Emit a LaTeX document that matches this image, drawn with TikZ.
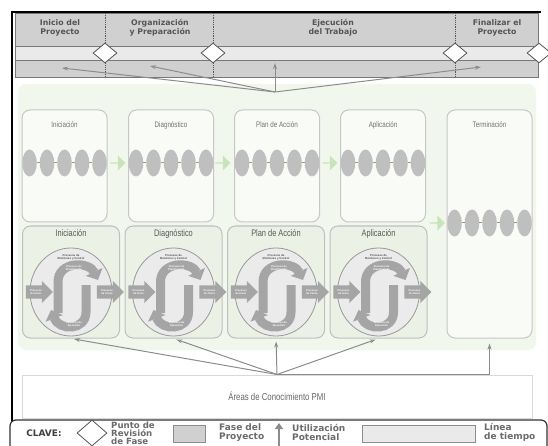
\documentclass[tikz,border=0pt]{standalone}
\usepackage{fontspec}
\setmainfont{Liberation Sans}
\setsansfont{DejaVu Sans}
\newfontfamily\estrecha[FakeStretch=0.78]{Liberation Sans}
\usetikzlibrary{arrows.meta,positioning,shapes.geometric,shapes.arrows}
\definecolor{borde}{RGB}{120,120,120}
\definecolor{fasegris}{RGB}{208,208,208}
\definecolor{lineatiempo}{RGB}{234,234,234}
\definecolor{verdefondo}{RGB}{242,247,237}
\definecolor{verdecaja}{RGB}{235,241,229}
\definecolor{verdeflecha}{RGB}{200,228,186}
\definecolor{textogris}{RGB}{85,85,85}
\definecolor{procgris}{RGB}{165,165,165}
\tikzset{
  marco/.style={draw=black, line width=1.6pt},
  cabecera/.style={draw=borde, thick, fill=fasegris},
  tiempo/.style={draw=borde, thick, fill=lineatiempo},
  separador/.style={draw=textogris, densely dotted, thick},
  fase/.style={font=\sffamily\bfseries\fontsize{7.8}{8.6}\selectfont, text=textogris, align=center, inner sep=1pt},
  revision/.style={diamond, draw=textogris, thick, fill=white, minimum width=24pt, minimum height=20pt, inner sep=0pt},
  area/.style={fill=verdefondo, rounded corners=8pt, inner sep=0pt},
  etapa/.style={draw=black!22, line width=1pt, fill=white!55!verdefondo, rounded corners=8pt, inner sep=0pt},
  caja/.style={draw=black!25, line width=1pt, fill=verdecaja, rounded corners=8pt, inner sep=0pt},
  titulo/.style={font=\estrecha\fontsize{8}{9}\selectfont, text=black!55, inner sep=1pt},
  titulo2/.style={font=\estrecha\fontsize{9.5}{10}\selectfont, text=black!65, inner sep=1pt},
  bolita/.style={ellipse, fill=black!25, minimum width=14.5pt, minimum height=27pt, inner sep=0pt},
  enlace/.style={draw=verdeflecha!70!black, line width=1pt},
  avance/.style={single arrow, fill=verdeflecha, minimum height=15pt, minimum width=15pt,
    single arrow head extend=2.5pt, inner sep=0pt},
  ovalo/.style={ellipse, draw=black!40, line width=0.8pt, fill=black!8, minimum width=82pt, minimum height=88pt, inner sep=0pt},
  gancho/.style={draw=procgris, line width=9pt, -{Triangle[width=18pt,length=9pt]}},
  lado/.style={single arrow, fill=procgris, text=white, align=center, minimum height=27pt, minimum width=22pt,
    single arrow head extend=2pt, inner sep=0.5pt, font=\bfseries\fontsize{2.6}{3}\selectfont},
  proc/.style={text=white, align=center, inner sep=0pt, font=\bfseries\fontsize{2.6}{3}\selectfont},
  monitoreo/.style={text=black!70, align=center, inner sep=0pt, font=\bfseries\fontsize{2.8}{3.2}\selectfont},
  uso/.style={draw=black!45, line width=1pt, -{Stealth[length=6pt,width=4pt]}},
  pmi/.style={draw=black!15, line width=1pt, fill=white, inner sep=0pt, text=black!60,
    font=\estrecha\fontsize{10}{11}\selectfont},
  clave/.style={draw=black!80, line width=1.2pt, rounded corners=6pt, fill=white},
  clavetxt/.style={font=\sffamily\bfseries\fontsize{9}{8.6}\selectfont, text=black!58, align=left, inner sep=0pt},
  muestra/.style={draw=black!45, thick, inner sep=0pt, minimum height=17pt}
}
\begin{document}
\begin{tikzpicture}[x=1pt, y=-1pt]
  \useasboundingbox (0,0) rectangle (548,446);
  \clip (0,0) rectangle (548,446);
  \fill[white] (0,0) rectangle (548,446);

  % cabecera con las fases del proyecto
  \draw[cabecera] (15,13) rectangle (538,46);
  \draw[tiempo] (15,46) rectangle (538,60);
  \draw[cabecera] (15,60) rectangle (538,77);
  \foreach \sx in {105,213,455}
    \draw[separador] (\sx,13) -- (\sx,77);
  \draw[marco] (12,446) -- (12,12) -- (541,12);

  \node[fase] (f1) at (60,28) {Inicio del\\Proyecto};
  \node[fase] (f2) at (160,28) {Organización\\y Preparación};
  \node[fase] (f3) at (333,28) {Ejecución\\del Trabajo};
  \node[fase] (f4) at (497,28) {Finalizar el\\Proyecto};
  \foreach \sx [count=\k] in {105,213,455,539}
    \node[revision] (r\k) at (\sx,53) {};

  % zona verde
  \node[area, minimum width=518pt, minimum height=266pt] (fondo) at (277,217) {};

  % fila superior
  \foreach \nom/\cx/\tit [count=\k] in {ini/64.5/Iniciación, dia/171/Diagnóstico, pla/277/Plan de Acción, apl/383/Aplicación}{
    \node[etapa, minimum width=85pt, minimum height=112pt] (\nom) at (\cx,166) {};
    \node[titulo, below=11pt of \nom.north] (\nom-t) {\tit};
    \foreach \i in {1,...,5}
      \node[bolita] (\nom-\i) at ({\cx-35+(\i-1)*17.5},163) {};
    \foreach \i [evaluate=\i as \j using int(\i+1)] in {1,...,4}
      \draw[enlace] (\nom-\i) -- (\nom-\j);
  }
  \node[etapa, minimum width=85pt, minimum height=228pt] (ter) at (489.5,224) {};
  \node[titulo, below=11pt of ter.north] (ter-t) {Terminación};
  \foreach \i in {1,...,5}
    \node[bolita] (ter-\i) at ({489.5-35+(\i-1)*17.5},223) {};
  \foreach \i [evaluate=\i as \j using int(\i+1)] in {1,...,4}
    \draw[enlace] (ter-\i) -- (ter-\j);
  \node[avance] (av1) at (117.5,163) {};
  \node[avance] (av2) at (222.5,163) {};
  \node[avance] (av3) at (329.5,163) {};
  \node[avance] (av4) at (437,223) {};

  % fila inferior con los ciclos de procesos
  \foreach \nom/\cx/\tit in {cini/71/Iniciación, cdia/173.5/Diagnóstico, cpla/276/Plan de Acción, capl/378.5/Aplicación}{
    \node[caja, minimum width=97pt, minimum height=112pt] (\nom) at (\cx,282) {};
    \node[titulo2, below=3pt of \nom.north] (\nom-t) {\tit};
    \begin{scope}[shift={(\cx,292)}]
      \node[ovalo] (\nom-o) at (0,0) {};
      \node[monitoreo] (\nom-m) at (0,-35) {Procesos de\\Monitoreo y Control};
      \draw[gancho] (-13,21) -- (-13,-10) .. controls (-13,-31) and (18,-31) .. (27,-12);
      \draw[gancho] (15,-7) -- (15,20) .. controls (15,39) and (-12,39) .. (-20,18);
      \node[proc] (\nom-p) at (3,-24) {Procesos de\\Planificación};
      \node[proc] (\nom-e) at (3,32) {Procesos de\\Ejecución};
      \node[lado] (\nom-i) at (-35,0) {Procesos\\de Inicio};
      \node[lado] (\nom-c) at (36,0) {Procesos\\de Cierre};
    \end{scope}
  }

  % utilizacion potencial
  \coordinate (cima) at (275,92);
  \coordinate (u1) at (62,68);
  \coordinate (u2) at (150,66);
  \coordinate (u3) at (275,63);
  \coordinate (u4) at (481,67);
  \foreach \u in {u1,u2,u3,u4}
    \draw[uso] (cima) -- (\u);

  \node[pmi, minimum width=510pt, minimum height=43pt] (pmi) at (277,396.5) {Áreas de Conocimiento PMI};
  \foreach \dest in {cini,cdia,cpla,capl}
    \draw[uso, shorten >=3pt] (pmi.north) -- (\dest.south);
  \draw[uso, shorten >=5pt] (pmi.north) -| (ter.south);

  % leyenda
  \draw[clave] (10,420) rectangle (547,470);
  \node[clavetxt, text=black!75] (clv) at (44,433) {CLAVE:};
  \node[revision, minimum width=30pt, minimum height=26pt] (lrev) at (92,433) {};
  \node[clavetxt, anchor=west, font=\sffamily\bfseries\fontsize{8.6}{8}\selectfont] (lrev-t) at (111,433.5) {Punto de\\Revisión\\de Fase};
  \node[muestra, fill=fasegris, minimum width=32pt] (lfase) at (189,434) {};
  \node[clavetxt, anchor=west] (lfase-t) at (219,432.5) {Fase del\\Proyecto};
  \coordinate (lu1) at (279,448);
  \coordinate (lu2) at (279,423);
  \draw[draw=black!45, line width=2.5pt, -{Triangle[width=8pt,length=6pt]}] (lu1) -- (lu2);
  \node[clavetxt, anchor=west] (luso-t) at (292,432.5) {Utilización\\Potencial};
  \node[muestra, fill=lineatiempo, minimum width=113pt] (ltiempo) at (418.5,434) {};
  \node[clavetxt, anchor=west] (ltiempo-t) at (484,432.5) {Línea\\de tiempo};
\end{tikzpicture}
\end{document}
